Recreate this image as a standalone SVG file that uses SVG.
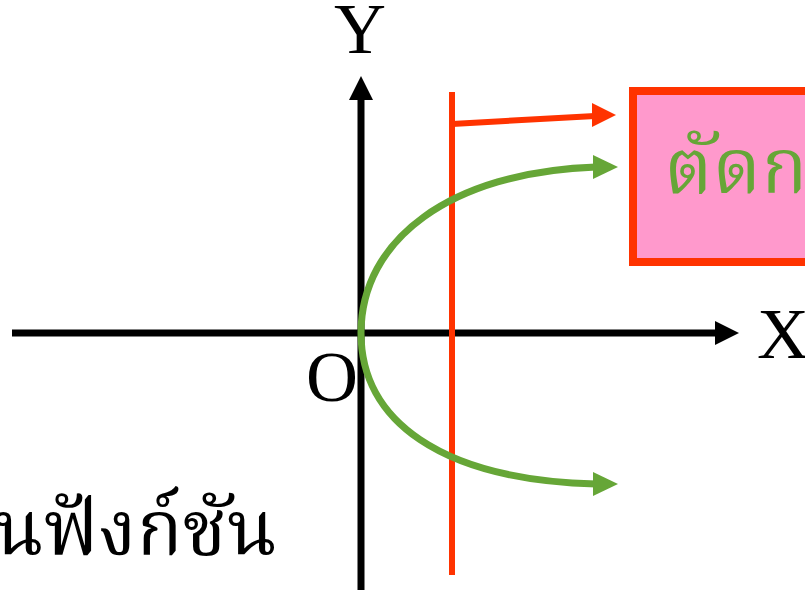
<svg xmlns="http://www.w3.org/2000/svg" width="805" height="590" viewBox="0 0 805 590">
<defs>
<style>
.lat{font-family:"Liberation Serif","Times New Roman",serif;font-size:72px;fill:#000}
.thai{font-family:"Noto Serif Thai","Noto Sans Thai Looped","Norasi","Loma","Noto Sans Thai","Liberation Serif",serif;font-size:76px}
.ax{stroke:#000;stroke-width:7;fill:none}
.grn{stroke:#66A637;stroke-width:7;fill:none}
.red{stroke:#FF3300;stroke-width:6;fill:none}
</style>
</defs>
<rect width="805" height="590" fill="#fff"/>
<g id="connectors">
<line class="ax" x1="12" y1="333" x2="717" y2="333"/>
<polygon points="715,321 739,333 715,345" fill="#000"/>
<line class="ax" x1="361" y1="590" x2="361" y2="98"/>
<polygon points="349,100 361,76 373,100" fill="#000"/>
<line class="red" x1="452" y1="92" x2="452" y2="575"/>
<polyline class="red" points="452,124 595,116"/>
<polygon points="592,103 616,115 592,127" fill="#FF3300"/>
<path class="grn" d="M361,333 C361,240 450,172 596,167"/>
<polygon points="593,155 618,167 593,179" fill="#66A637"/>
<path class="grn" d="M361,333 C361,420 440,480 596,484"/>
<polygon points="593,472 618,484 593,496" fill="#66A637"/>
</g>
<g id="axis-labels">
<text class="lat" x="360" y="53" text-anchor="middle">Y</text>
<text class="lat" x="757" y="358">X</text>
<text class="lat" x="306" y="401">O</text>
</g>
<g id="box">
<rect x="633" y="91" width="200" height="171" fill="#FF99CC" stroke="#FF3300" stroke-width="8"/>
<text class="thai" x="664" y="193" fill="#66A637">ตัดกราฟมากกว่า 1 จุด</text>
</g>
<g id="caption">
<text class="thai" x="277" y="555" text-anchor="end" fill="#000">ไม่เป็นฟังก์ชัน</text>
</g>
</svg>
